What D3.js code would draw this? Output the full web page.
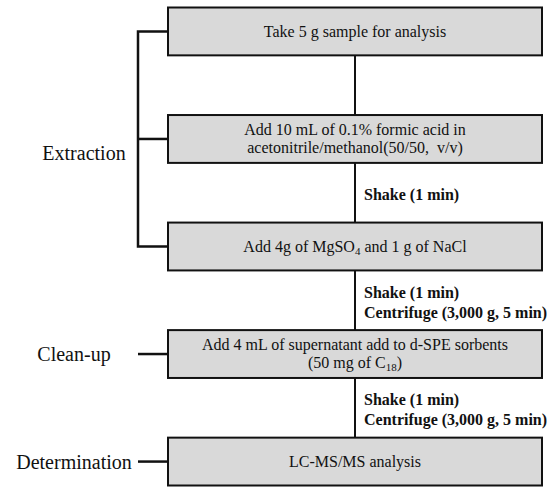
<!DOCTYPE html>
<html>
<head>
<meta charset="utf-8">
<script src="https://cdn.jsdelivr.net/npm/d3@7"></script>
</head>
<body style="margin:0">
<svg id="chart"></svg>
<script>
// Steps of the procedure, top to bottom. Each line is a list of [text, isSubscript] parts.
const steps = ["sample", "solvent", "salts", "cleanup", "lcms"];
const stepLines = [
  [[["Take 5 g sample for analysis", false]]],
  [[["Add 10 mL of 0.1% formic acid in", false]],
   [["acetonitrile/methanol(50/50,  v/v)", false]]],
  [[["Add 4g of MgSO", false], ["4", true], [" and 1 g of NaCl", false]]],
  [[["Add 4 mL of supernatant add to d-SPE sorbents", false]],
   [["(50 mg of C", false], ["18", true], [")", false]]],
  [[["LC-MS/MS analysis", false]]]
];

// Conditions written next to the connector below a step
const conditionAfter = ["solvent", "salts", "cleanup"];
const conditionText = [
  ["Shake (1 min)"],
  ["Shake (1 min)", "Centrifuge (3,000 g, 5 min)"],
  ["Shake (1 min)", "Centrifuge (3,000 g, 5 min)"]
];

// Stage labels and which steps each groups
const stages = ["Extraction", "Clean-up", "Determination"];
const stageSteps = [["sample", "solvent", "salts"], ["cleanup"], ["lcms"]];

const width = 547, height = 487;
const boxLeft = 168, boxRight = 542, bracketX = 138;
const FONT = "Liberation Serif";

const svg = d3.select("#chart")
  .attr("width", width).attr("height", height)
  .attr("font-family", FONT);

const y = d3.scaleBand()
  .domain(steps)
  .range([7.5, 485.5])
  .paddingInner(0.555)
  .paddingOuter(0);
const mid = s => y(s) + y.bandwidth() / 2;
const cx = (boxLeft + boxRight) / 2;

// vertical spine
svg.append("line")
  .attr("x1", cx).attr("x2", cx)
  .attr("y1", y(steps[0]) + y.bandwidth())
  .attr("y2", y(steps[steps.length - 1]))
  .attr("stroke", "#111").attr("stroke-width", 2);

// boxes
const box = svg.selectAll(".step")
  .data(steps)
  .join("g")
  .attr("class", "step");

box.append("rect")
  .attr("x", boxLeft)
  .attr("y", d => y(d))
  .attr("width", boxRight - boxLeft)
  .attr("height", y.bandwidth())
  .attr("fill", "#d9d9d9")
  .attr("stroke", "#111")
  .attr("stroke-width", 2);

box.each(function(d, i) {
  const lines = stepLines[i];
  const lh = 18;
  const t0 = mid(d) - (lines.length - 1) * lh / 2 - (lines.length > 1 ? 1 : 0);
  lines.forEach((parts, j) => {
    const t = d3.select(this).append("text")
      .attr("x", cx)
      .attr("y", t0 + j * lh)
      .attr("dy", "0.35em")
      .attr("text-anchor", "middle")
      .attr("font-family", FONT)
      .attr("font-size", 16)
      .attr("fill", "#111")
      .style("white-space", "pre");
    parts.forEach(([txt, sub]) => {
      const ts = t.append("tspan").text(txt);
      if (sub) ts.attr("baseline-shift", "-25%").attr("font-size", 11);
    });
  });
});

// conditions
conditionAfter.forEach((s, i) => {
  const next = steps[steps.indexOf(s) + 1];
  const top = y(s) + y.bandwidth(), bot = y(next);
  const lines = conditionText[i];
  const lh = 20;
  const c = (top + bot) / 2 + 2;
  lines.forEach((txt, j) => {
    svg.append("text")
      .attr("x", cx + 9)
      .attr("y", c - (lines.length - 1) * lh / 2 + j * lh)
      .attr("dy", "0.35em")
      .attr("fill", "#111")
      .attr("font-family", FONT)
      .attr("font-size", 16)
      .attr("font-weight", "bold")
      .text(txt);
  });
});

// stage brackets and labels
stages.forEach((name, i) => {
  const ss = stageSteps[i];
  let yy;
  if (ss.length > 1) {
    const y0 = mid(ss[0]), y1 = mid(ss[ss.length - 1]);
    svg.append("path")
      .attr("d", d3.line()([[boxLeft, y0], [bracketX, y0], [bracketX, y1], [boxLeft, y1]]))
      .attr("fill", "none").attr("stroke", "#111").attr("stroke-width", 2.5);
    ss.slice(1, -1).forEach(s => {
      svg.append("line")
        .attr("x1", bracketX).attr("x2", boxLeft)
        .attr("y1", mid(s)).attr("y2", mid(s))
        .attr("stroke", "#111").attr("stroke-width", 2.5);
    });
    yy = mid(ss[1]) + 14;
  } else {
    yy = mid(ss[0]);
    svg.append("line")
      .attr("x1", bracketX).attr("x2", boxLeft)
      .attr("y1", yy).attr("y2", yy)
      .attr("stroke", "#111").attr("stroke-width", 2.5);
  }
  svg.append("text")
    .attr("x", ss.length > 1 ? 84 : 74)
    .attr("y", yy)
    .attr("dy", "0.35em")
    .attr("text-anchor", "middle")
    .attr("fill", "#111")
    .attr("font-family", FONT)
    .attr("font-size", 20)
    .text(name);
});
</script>
</body>
</html>
